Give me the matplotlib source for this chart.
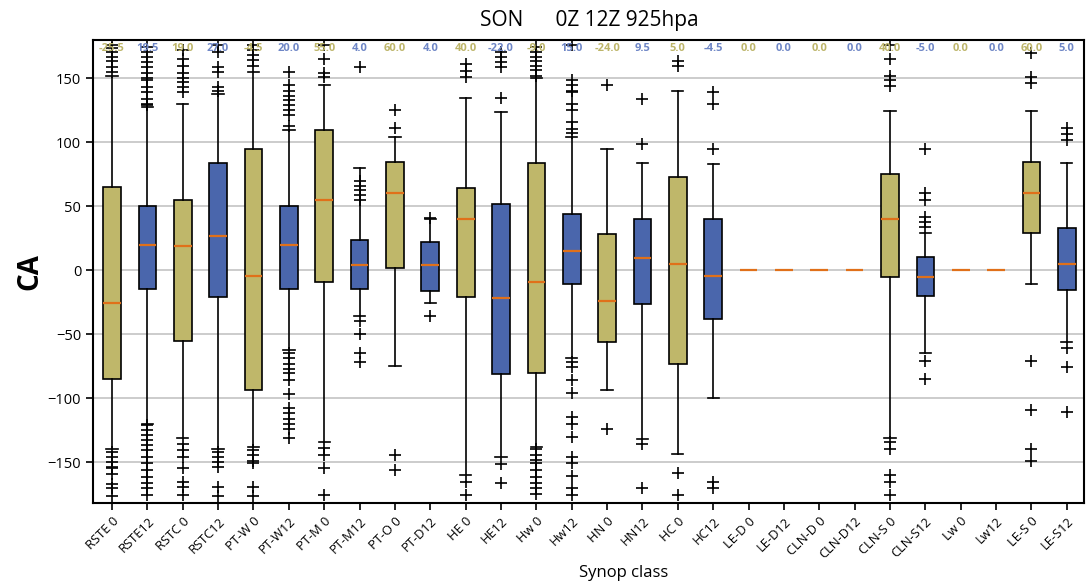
import numpy as np
import matplotlib
matplotlib.use("Agg")
from matplotlib import pyplot as plt
import matplotlib.transforms as mtransforms

plt.rcParams['font.family'] = ['Open Sans', 'DejaVu Sans']

# synop classes (0Z / 12Z alternating)
classes = ["RSTE 0", "RSTE12", "RSTC 0", "RSTC12", "PT-W 0", "PT-W12", "PT-M 0",
           "PT-M12", "PT-O 0", "PT-D12", "HE 0", "HE12", "Hw 0", "Hw12", "HN 0",
           "HN12", "HC 0", "HC12", "LE-D 0", "LE-D12", "CLN-D 0", "CLN-D12",
           "CLN-S 0", "CLN-S12", "Lw 0", "Lw12", "LE-S 0", "LE-S12"]

medians = [-25.5, 19.5, 19.0, 27.0, -4.5, 20.0, 55.0, 4.0, 60.0, 4.0, 40.0, -22.0,
           -9.0, 15.0, -24.0, 9.5, 5.0, -4.5, 0.0, 0.0, 0.0, 0.0, 40.0, -5.0,
           0.0, 0.0, 60.0, 5.0]
q1 = [-85, -14.5, -55, -21, -94, -15, -9.5, -14.5, 1.5, -16.5, -21, -81.5,
      -80, -11, -56, -26.5, -73, -38.5, 0, 0, 0, 0, -5, -20.5, 0, 0, 29, -15.5]
q3 = [65, 50, 55, 84, 95, 50, 110, 24, 85, 22, 64, 51.5, 84, 44, 28, 40, 73,
      40, 0, 0, 0, 0, 75, 10, 0, 0, 85, 33]
whis_lo = [-140, -120, -131, -140, -138, -62, -134, -36, -74.5, -25.5, -160, -146,
           -138, -69, -94, -132, -144, -100, 0, 0, 0, 0, -131.5, -65, 0, 0, -11, -56]
whis_hi = [152, 128, 130, 138, 155, 110, 145, 80, 104, 40, 135, 124, 150, 104,
           95, 84, 140, 83, 0, 0, 0, 0, 124.5, 29, 0, 0, 124.5, 84]

fliers = [
    [176, 174, 170.5, 167, 163.5, 159, 155, -142, -146, -150, -154, -155, -159, -167, -170.5, -176.5],
    [174.5, 170.5, 166.5, 162.5, 159, 154, 150, 148.5, 143, 139, 134, 130, 129,
     -121, -125, -129, -133, -137, -140.5, -146, -151, -156, -161.5, -166.5, -170.5, -176],
    [172, 165.5, 159.5, 154, 150.5, 147, 143, 139, -135.5, -140.5, -146, -154.5, -165.5, -169.5, -176],
    [176, 170.5, 159, 155, 143, 140.5, -142, -146, -150, -153.5, -169.5, -176.5],
    [176, 172, 168, 164, 159.5, -140.5, -144.5, -149, -150.5, -169.5, -176.5],
    [155, 144.5, 140.5, 136.5, 133, 129, 125, 121, 113, -65, -69, -73, -77, -80.5, -85.5,
     -96.5, -108, -112, -116, -120, -124, -131.5],
    [176, 165.5, 154, 151, -139, -144.5, -154.5, -176],
    [159, 70, 66, 62.5, 59, 55, -40, -49.5, -64.5, -71.5],
    [125, 111.5, -144.5, -156.5],
    [41, -35.5],
    [161, 155.5, 151, -165.5, -176],
    [170.5, 166.5, 162.5, 159, 135, -151.5, -166],
    [174.5, 170.5, 166.5, 163.5, 160, 156.5, 151.5, -140, -144.5, -148.5, -151, -156.5,
     -161.5, -166.5, -170.5, -175],
    [176, 149, 144.5, 140.5, 139, 130, 125, 116, 110.5, 107, -71.5, -75.5, -85.5, -96,
     -114.5, -120, -130, -146, -151, -161, -170.5, -176],
    [145, -124.5],
    [133.5, 98.5, -135.5, -170],
    [163.5, 159.5, -158.5, -176],
    [139.5, 130, 95, -165.5, -170.5],
    [], [], [], [],
    [176, 165.5, 151.5, 148.5, 144, -134, -140, -160, -165.5, -176],
    [95, 60, 55, 41.5, 38, 34, -71, -85],
    [], [],
    [170, 151, 146, -71, -109.5, -140, -149.5],
    [111.5, 106.5, 102, -61, -75.5, -110.5],
]

olive = "#BFB76A"
blue = "#4A66AC"
olive_txt = "#BDB56A"
blue_txt = "#6E86C6"

stats = []
for i, name in enumerate(classes):
    stats.append(dict(label=name, med=medians[i], q1=q1[i], q3=q3[i],
                      whislo=whis_lo[i], whishi=whis_hi[i], fliers=fliers[i]))

fig = plt.figure(figsize=(10.86, 5.83), dpi=100)
ax = fig.add_axes([0.0856, 0.1372, 0.913, 0.7942])

pos = np.arange(1, len(classes) + 1)
bp = ax.bxp(stats, positions=pos, widths=0.5, patch_artist=True, capwidths=0.32,
            boxprops=dict(edgecolor="black", linewidth=1.2),
            whiskerprops=dict(color="black", linewidth=1.2),
            capprops=dict(color="black", linewidth=1.2),
            medianprops=dict(color="#E0701A", linewidth=1.6),
            flierprops=dict(marker="+", markeredgecolor="black", markersize=9,
                            markeredgewidth=1.2, linestyle="none"))
for i, b in enumerate(bp["boxes"]):
    b.set_facecolor(olive if i % 2 == 0 else blue)

ax.set_xlim(0.46, 28.5)
ax.set_ylim(-182, 180)
ax.set_yticks([-150, -100, -50, 0, 50, 100, 150])
ax.yaxis.grid(True, color="#C8C8C8", linewidth=1.3)
ax.set_axisbelow(True)
ax.set_xticks(pos)
ax.set_xticklabels(classes, rotation=45, ha="right", rotation_mode="anchor", fontsize=9.3)
ax.tick_params(axis="y", labelsize=10.5, length=5, width=1.2)
ax.tick_params(axis="x", length=5, width=1.2)
for s in ax.spines.values():
    s.set_linewidth(1.5)

trans = mtransforms.blended_transform_factory(ax.transData, ax.transAxes)
for i, m in enumerate(medians):
    ax.text(pos[i], 0.994, f"{m:.1f}", transform=trans, ha="center", va="top",
            fontsize=8, fontweight="bold",
            color=olive_txt if i % 2 == 0 else blue_txt)

ax.set_ylabel("CA", fontsize=20, fontweight="bold", labelpad=2)
ax.set_xlabel("Synop class", fontsize=12, va="bottom")
ax.xaxis.set_label_coords(0.535, -0.169)
fig.text(0.543, 0.965, "SON      0Z 12Z 925hpa", ha="center", va="center", fontsize=15)

fig.savefig("out.png", dpi=100)
